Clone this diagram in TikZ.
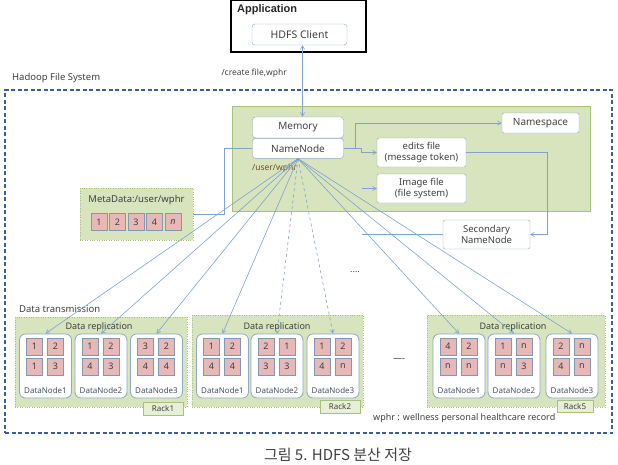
\documentclass[tikz,border=0pt]{standalone}
\usepackage{fontspec}
\setmainfont{Noto Sans}
\newfontfamily\koreanfont{Noto Sans CJK KR}
\newfontfamily\titelfont{Liberation Sans}
\usepackage{tikz}
\usetikzlibrary{arrows}
\usetikzlibrary{arrows,positioning}
\definecolor{gruen}{HTML}{D7E4BD}
\definecolor{gruenrand}{HTML}{A7C27A}
\definecolor{linie}{HTML}{7FA3CF}
\definecolor{hdfsrand}{HTML}{3B5E9A}
\definecolor{rosa}{HTML}{E6B9B8}
\definecolor{zellrand}{HTML}{8497B0}
\definecolor{dnrand}{HTML}{8FA8C4}
\definecolor{schrift}{HTML}{404040}
\tikzset{
  %Define standard arrow tip
  >=angle 60,
  %Define style for white boxes
  kasten/.style={
    rectangle,
    rounded corners=2pt,
    draw=dnrand, fill=white,
    text=schrift,
    font=\fontsize{10}{11}\selectfont,
    inner sep=1pt,
    align=center},
  % Define style for green fields
  feld/.style={
    rectangle,
    draw=gruenrand, fill=gruen},
  % Define style for data blocks
  zelle/.style={
    rectangle,
    draw=zellrand, fill=rosa,
    text=schrift,
    minimum width=16pt, minimum height=17pt,
    inner sep=0pt,
    font=\fontsize{9}{10}\selectfont},
  % Define style for data nodes
  datanode/.style={
    rectangle,
    rounded corners=6pt,
    draw=dnrand, thick, fill=white,
    minimum width=52pt, minimum height=64pt},
  % Define style for rack labels
  racklabel/.style={
    feld, fill=gruen!60,
    inner sep=0pt,
    minimum width=40pt, minimum height=13pt,
    text=schrift,
    font=\fontsize{8}{8}\selectfont},
  % Define style for plain texts
  schrift/.style={
    text=schrift,
    inner sep=0pt,
    font=\fontsize{#1}{#1}\selectfont},
  % Define arrow style
  pil/.style={
    ->,
    draw=linie,
    semithick}
}

\begin{document}
\begin{tikzpicture}[x=1pt,y=-1pt]
  \useasboundingbox (0,0) rectangle (618,464);
  % application
  \node[draw=black, line width=1.6pt, minimum width=135pt, minimum height=52pt] (application) at (298.5,26) {};
  \node[anchor=west, inner sep=0pt, text=black!85, font=\titelfont\fontsize{11}{12}\selectfont\bfseries] (apptitle) at (237,10) {Application};
  \node[kasten, rounded corners=3pt, minimum width=95pt, minimum height=21pt, font=\fontsize{10.5}{11}\selectfont] (client) at (299.5,34.5) {HDFS Client};
  \node[schrift=8.5, anchor=east] (create) at (287,73) {/create file,wphr};
  % hadoop file system
  \node[schrift=9.5, anchor=west] (hfs) at (12,78) {Hadoop File System};
  \node[draw=hdfsrand, line width=1.6pt, dash pattern=on 4pt off 2.5pt, minimum width=607pt, minimum height=343pt] (hdfs) at (308.5,261.5) {};
  % namenode
  \node[feld, minimum width=358pt, minimum height=105pt] (nnpanel) at (411,158.5) {};
  \node[kasten, rounded corners=3pt, minimum width=91pt, minimum height=21pt] (memory) at (298,127.5) {Memory};
  \node[kasten, rounded corners=3pt, minimum width=91pt, minimum height=20pt, below=0pt of memory] (namenode) {NameNode};
  \node[schrift=8.5, anchor=west, text=brown!60!black] (user) at (252,168) {/user/wphr};
  \node[kasten, minimum width=77pt, minimum height=20pt] (namespace) at (540.5,123) {Namespace};
  \node[kasten, minimum width=89pt, minimum height=29pt, font=\fontsize{9.5}{10.5}\selectfont] (edits) at (421.5,152.5) {edits file\\(message token)};
  \node[kasten, minimum width=89pt, minimum height=29pt, font=\fontsize{9.5}{10.5}\selectfont] (image) at (421.5,188.5) {Image file\\(file system)};
  \node[kasten, minimum width=87pt, minimum height=29pt, font=\fontsize{9.5}{10.5}\selectfont] (secondary) at (486.5,234.5) {Secondary\\NameNode};
  \coordinate (imagein) at (362,188.5);
  \coordinate (secondaryend) at (362,234.5);
  \draw[<->, linie, semithick] ([xshift=3pt]client.south) -- ([xshift=3pt]client.south |- memory.north);
  \draw[pil] (namenode.east) -- ++(12,0) |- (namespace.west);
  \draw[pil] (namenode.east) -- ++(18,0) |- (edits.west);
  \draw[pil] (imagein) -- (image.west);
  \draw[pil] (edits.east) -- ++(81,0) |- (secondary.east);
  \draw[linie, semithick] (secondary.west) -- (secondaryend);
  % metadata
  \node[feld, dotted, minimum width=113pt, minimum height=52pt] (metadata) at (136.5,214) {};
  \node[schrift=9.5] (metatitle) at (136.5,200) {MetaData:/user/wphr};
  \foreach \i/\v in {0/1,1/2,2/3,3/4,4/{\itshape n}}
    \node[zelle] (meta\i) at (99+18.5*\i,222) {\v};
  \draw[linie, semithick] (namenode.west) -- ++(-28,0) |- (metadata.east);
  % racks
  \node[schrift=9.5, anchor=west] (transmission) at (19,309) {Data transmission};
  \node[feld, dotted, minimum width=172pt, minimum height=90pt] (racka) at (101,362) {};
  \node[feld, dotted, minimum width=171pt, minimum height=92pt] (rackb) at (277.5,361) {};
  \node[feld, dotted, minimum width=178pt, minimum height=92pt] (rackc) at (516,361) {};
  \foreach \r/\x in {a/99,b/277,c/513}
    \node[schrift=9] (repl\r) at (\x,327) {Data replication};
  \foreach \r/\n/\xc/\a/\b/\c/\d in {a/1/45.5/1/2/1/3, a/2/101/1/2/4/3, a/3/156.5/3/2/4/4,
      b/1/222.5/1/2/4/4, b/2/277/2/1/3/3, b/3/333/1/2/4/n,
      c/1/459/4/2/n/n, c/2/514/1/n/n/3, c/3/572/2/n/4/n}{
    \node[datanode] (r\r\n) at (\xc,366) {};
    \node[zelle] (r\r\n-1) at (\xc-11,346.5) {\a};
    \node[zelle] (r\r\n-2) at (\xc+10,346.5) {\b};
    \node[zelle] (r\r\n-3) at (\xc-11,366.5) {\c};
    \node[zelle] (r\r\n-4) at (\xc+10,366.5) {\d};
    \node[schrift=8, text=dnrand!50!black] (r\r\n-label) at (\xc,390) {DataNode\n};
  }
  \node[racklabel] (labela) at (163,408.5) {Rack1};
  \node[racklabel] (labelb) at (340,406.5) {Rack2};
  \node[racklabel, minimum width=36pt, minimum height=12pt] (labelc) at (575,406) {Rack5};
  % fan out
  \foreach \z in {ra1,ra2,ra3,rb1,rc1,rc2,rc3}
    \draw[pil] (namenode.south) -- (\z.north);
  \foreach \z in {rb2,rb3}
    \draw[pil, dashed] (namenode.south) -- (\z.north);
  \node[schrift=9] (dotsa) at (355,272) {....};
  \node[schrift=9] (dotsb) at (399,360) {----};
  \node[schrift=9, anchor=west] (wphr) at (373,418) {wphr : wellness personal healthcare record};
  \node[schrift=15, font=\koreanfont\fontsize{15}{17}\selectfont] (caption) at (338,455) {그림 5. HDFS 분산 저장};
\end{tikzpicture}
\end{document}
